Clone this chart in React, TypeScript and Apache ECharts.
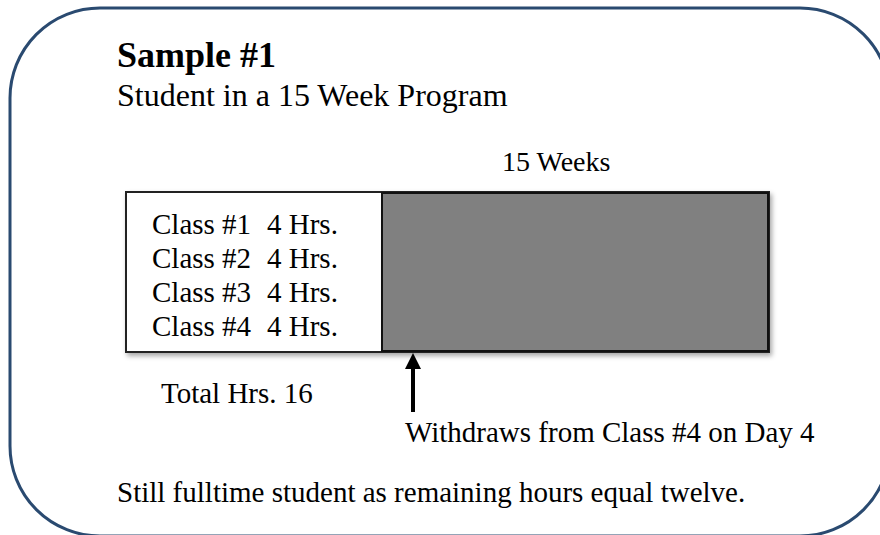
import React, { useEffect, useRef } from "react";
import * as echarts from "echarts";

const title = "Sample #1";
const subtitle = "Student in a 15 Week Program";
const classNames = ["Class #1", "Class #2", "Class #3", "Class #4"];
const classHours = [4, 4, 4, 4];
const programWeeks = 15;
const barCategories = ["Program"];
const barValues = [15];
const withdrawNote = "Withdraws from Class #4 on Day 4";
const footNote = "Still fulltime student as remaining hours equal twelve.";

const FONT = "'Liberation Serif', 'Times New Roman', serif";

export default function App() {
  const ref = useRef<HTMLDivElement>(null);
  useEffect(() => {
    if (!ref.current) return;
    const chart = echarts.init(ref.current, null, { renderer: "svg" });
    const total = classHours.reduce((a, b) => a + b, 0);
    const txt = (text: string, x: number, y: number, size: number, weight = "normal") => ({
      type: "text",
      z: 10,
      style: {
        text,
        x,
        y,
        fill: "#000",
        font: `${weight} ${size}px ${FONT}`,
        textAlign: "left",
        textVerticalAlign: "middle",
      },
    });
    const rowGap = 34;
    const graphics: any[] = [
      {
        type: "rect",
        z: 0,
        shape: { x: 10, y: 8, width: 880, height: 528, r: 90 },
        style: { fill: "none", stroke: "#2a4a70", lineWidth: 3 },
      },
      {
        type: "rect",
        z: 1,
        shape: { x: 126, y: 192, width: 643, height: 160 },
        style: {
          fill: "#fff",
          stroke: "#222",
          lineWidth: 2,
          shadowBlur: 5,
          shadowOffsetX: 2,
          shadowOffsetY: 3,
          shadowColor: "rgba(0,0,0,0.35)",
        },
      },
      txt(title, 117, 55, 36, "bold"),
      txt(subtitle, 117, 95, 32),
      txt(`${programWeeks} Weeks`, 502, 161, 28),
      ...classNames.flatMap((c, i) => [
        txt(c, 152, 224 + i * rowGap, 29),
        txt(`${classHours[i]} Hrs.`, 267, 224 + i * rowGap, 29),
      ]),
      txt(`Total Hrs. ${total}`, 161, 393, 29),
      txt(withdrawNote, 405, 432, 29),
      txt(footNote, 117, 492, 29),
      {
        type: "line",
        z: 10,
        shape: { x1: 413, y1: 412, x2: 413, y2: 366 },
        style: { stroke: "#000", lineWidth: 4 },
      },
      {
        type: "polygon",
        z: 10,
        shape: { points: [[405, 369], [421, 369], [413, 353]] },
        style: { fill: "#000" },
      },
    ];
    chart.setOption({
      animation: false,
      grid: { left: 381, right: 111, top: 192, bottom: 183, containLabel: false },
      xAxis: { type: "value", min: 0, max: programWeeks, show: false },
      yAxis: { type: "category", data: barCategories, show: false },
      series: [
        {
          type: "bar",
          data: barValues,
          barWidth: "100%",
          z: 5,
          itemStyle: { color: "#808080", borderColor: "#111", borderWidth: 2 },
          silent: true,
        },
      ],
      graphic: graphics,
    });
    return () => chart.dispose();
  }, []);
  return (
    <div
      ref={ref}
      style={{ position: "fixed", left: 0, top: 0, width: 880, height: 535, background: "#fff" }}
    />
  );
}
